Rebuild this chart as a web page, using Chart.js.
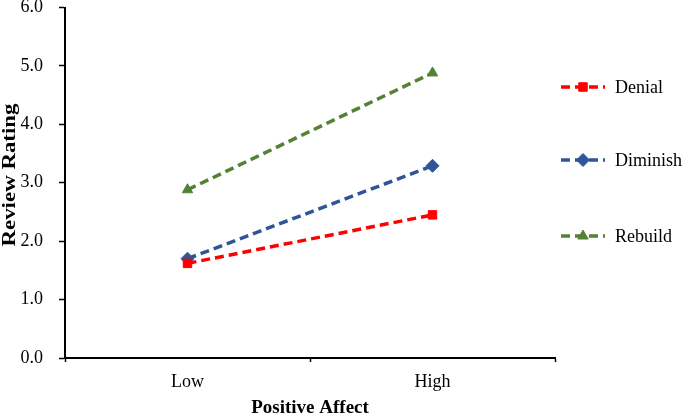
<!DOCTYPE html>
<html>
<head>
<meta charset="utf-8">
<script src="https://cdn.jsdelivr.net/npm/chart.js@4"></script>
<style>
  html, body { margin: 0; padding: 0; background: #fff; }
  #wrap { width: 684px; height: 413px; position: relative; }
</style>
</head>
<body>
<div id="wrap"><canvas id="chart"></canvas></div>
<script>
// Data
const categories = ['Low', 'High'];
const denial = [1.62, 2.45];
const diminish = [1.70, 3.29];
const rebuild = [2.88, 4.88];
const yTicks = [0, 1, 2, 3, 4, 5, 6];

const serif = '"Liberation Serif", "Times New Roman", serif';

function series(label, data, color, style) {
    return {
        label: label,
        data: data,
        borderColor: color,
        backgroundColor: color,
        borderWidth: 3.5,
        borderDash: [9, 5],
        pointStyle: style,
        pointRadius: style === 'rectRot' ? 6.5 : 6,
        pointBorderWidth: 1,
        tension: 0
    };
}

// Legend at the right: dashed line with the marker in the middle
const sideLegend = {
    id: 'sideLegend',
    afterDraw(chart) {
        const ctx = chart.ctx;
        const ys = [87, 160, 236];
        chart.data.datasets.forEach((ds, i) => {
            const y = ys[i];
            ctx.save();
            ctx.strokeStyle = ds.borderColor;
            ctx.lineWidth = 3.5;
            ctx.setLineDash([9, 5]);
            ctx.beginPath();
            ctx.moveTo(561, y);
            ctx.lineTo(605, y);
            ctx.stroke();
            ctx.setLineDash([]);
            ctx.fillStyle = ds.backgroundColor;
            ctx.lineWidth = 1;
            Chart.helpers.drawPoint(ctx, {
                pointStyle: ds.pointStyle, radius: ds.pointRadius, rotation: 0, borderWidth: 1
            }, 583, y);
            ctx.fillStyle = '#000';
            ctx.font = '18px ' + serif;
            ctx.textBaseline = 'middle';
            ctx.fillText(ds.label, 615, y + 1);
            ctx.restore();
        });
    }
};

// Y title drawn by hand so it can be stretched along its length like the original
const yTitle = {
    id: 'yTitle',
    afterDraw(chart) {
        const ctx = chart.ctx;
        const text = 'Review Rating';
        ctx.save();
        ctx.font = 'bold 19px ' + serif;
        const w = ctx.measureText(text).width;
        ctx.translate(9, 175);
        ctx.rotate(-Math.PI / 2);
        ctx.scale(143 / w, 1);
        ctx.fillStyle = '#000';
        ctx.textAlign = 'center';
        ctx.textBaseline = 'middle';
        ctx.fillText(text, 0, 1);
        ctx.restore();
    }
};

const ctx = document.getElementById('chart').getContext('2d');
const chart = new Chart(ctx, {
    type: 'line',
    data: {
        labels: categories,
        datasets: [
            series('Denial', denial, '#FF0000', 'rect'),
            series('Diminish', diminish, '#2F5597', 'rectRot'),
            series('Rebuild', rebuild, '#548235', 'triangle')
        ]
    },
    options: {
        responsive: true,
        maintainAspectRatio: false,
        animation: false,
        layout: { padding: { top: 6, right: 129, left: 0, bottom: 0 } },
        plugins: {
            legend: { display: false },
            tooltip: { enabled: false }
        },
        scales: {
            x: {
                offset: true,
                grid: {
                    offset: true,
                    drawOnChartArea: false,
                    color: '#000',
                    tickLength: 4,
                    tickWidth: 1.5
                },
                border: { color: '#000', width: 2 },
                ticks: {
                    color: '#000',
                    font: { family: serif, size: 18 },
                    padding: 9
                },
                title: {
                    display: true,
                    text: 'Positive Affect',
                    color: '#000',
                    font: { family: serif, size: 19, weight: 'bold', lineHeight: 1 },
                    padding: { top: 0, bottom: -5 }
                },
                afterFit(scale) {
                    scale.height = 55;
                    scale.paddingLeft = 0;
                    scale.paddingRight = 0;
                }
            },
            y: {
                min: 0,
                max: 6,
                afterBuildTicks(scale) { scale.ticks = yTicks.map(v => ({ value: v })); },
                grid: {
                    drawOnChartArea: false,
                    color: '#000',
                    tickLength: 6,
                    tickWidth: 1.5
                },
                border: { color: '#000', width: 2 },
                ticks: {
                    color: '#000',
                    font: { family: serif, size: 18 },
                    padding: 16,
                    callback: v => v.toFixed(1)
                },
                afterFit(scale) {
                    scale.width = 65;
                    scale.paddingTop = 0;
                    scale.paddingBottom = 0;
                }
            }
        }
    },
    plugins: [sideLegend, yTitle]
});
</script>
</body>
</html>
